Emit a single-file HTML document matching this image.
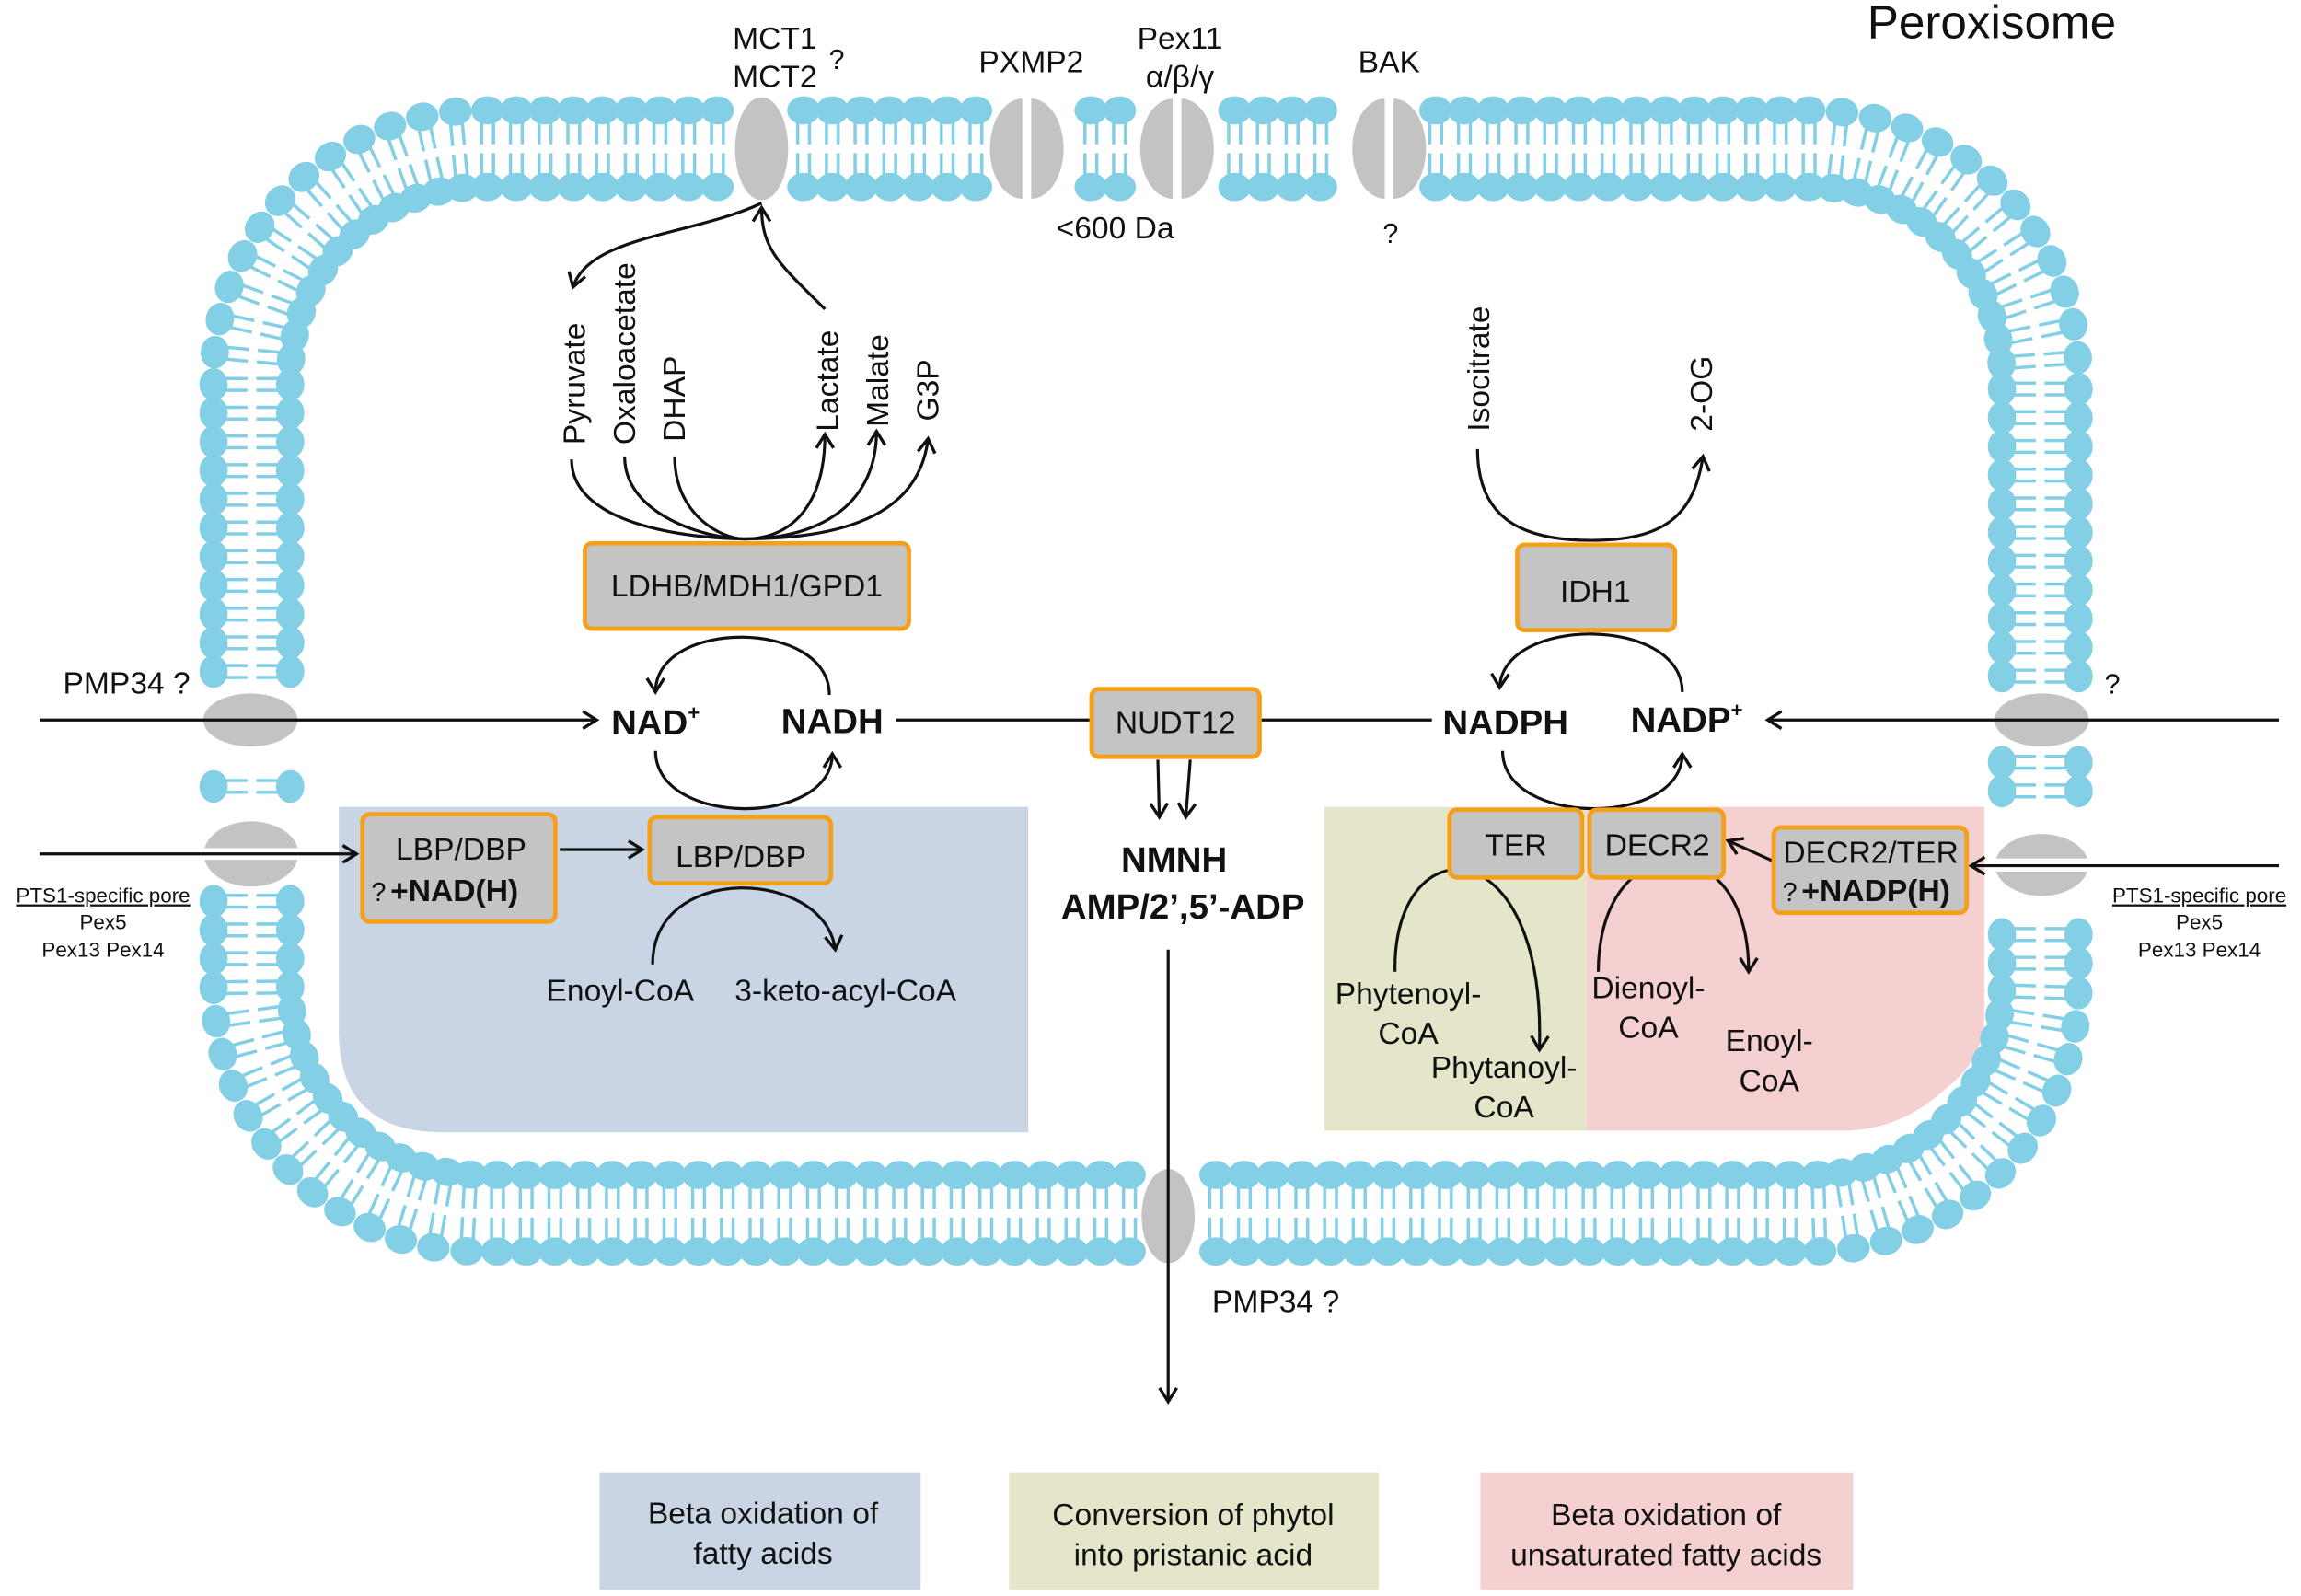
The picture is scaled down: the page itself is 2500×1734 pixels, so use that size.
<!DOCTYPE html>
<html><head><meta charset="utf-8"><style>
html,body{margin:0;padding:0;background:#fff}
svg{display:block}
text{font-family:"Liberation Sans",sans-serif;fill:#111}
</style></head><body>
<svg id="s" width="2500" height="1734" viewBox="0 0 1562 1084" preserveAspectRatio="none" xmlns="http://www.w3.org/2000/svg">
<defs>
<marker id="b" viewBox="0 0 12 12" refX="10" refY="6" markerWidth="14" markerHeight="14" orient="auto-start-reverse" markerUnits="userSpaceOnUse">
<path d="M2,1 L10,6 L2,11" fill="none" stroke="#111" stroke-width="1.8"/></marker>
</defs>
<path d="M230,548 H698 V769 H300 Q230,769 230,700 Z" fill="#c9d5e4"/>
<rect x="899" y="548" width="178" height="220" fill="#e4e5c9"/>
<path d="M1077,548 H1347 V690 Q1347,720 1320,740 Q1290,768 1250,768 H1077 Z" fill="#f4d0d0"/>
<g id="mem"></g>
<g fill="#c3c3c3">
<ellipse cx="517" cy="101" rx="18" ry="35"/>
<path d="M694,67 A22,34 0 0 0 694,135 Z"/><path d="M700,67 A22,34 0 0 1 700,135 Z"/>
<path d="M796,67 A22,34 0 0 0 796,135 Z"/><path d="M802,67 A22,34 0 0 1 802,135 Z"/>
<path d="M940,67 A22,34 0 0 0 940,135 Z"/><path d="M946,67 A22,34 0 0 1 946,135 Z"/>
<ellipse cx="170" cy="489" rx="32" ry="18"/>
<path d="M139,576 A32,22 0 0 1 202,576 Z"/><path d="M139,584 A32,22 0 0 0 202,584 Z"/>
<ellipse cx="1386" cy="489" rx="32" ry="18"/>
<path d="M1355,583 A32,22 0 0 1 1417,583 Z"/><path d="M1355,592 A32,22 0 0 0 1417,592 Z"/>
<ellipse cx="793" cy="826" rx="18" ry="32"/>
</g>
<g fill="none" stroke="#111" stroke-width="2">
<line x1="27" y1="489" x2="405" y2="489" marker-end="url(#b)"/>
<line x1="608" y1="489" x2="740" y2="489"/>
<line x1="856" y1="489" x2="972" y2="489"/>
<line x1="1547" y1="489" x2="1200" y2="489" marker-end="url(#b)"/>
<line x1="27" y1="580" x2="242" y2="580" marker-end="url(#b)"/>
<line x1="1547" y1="588" x2="1338" y2="588" marker-end="url(#b)"/>
<line x1="380" y1="577" x2="436" y2="577" marker-end="url(#b)"/>
<line x1="1204" y1="585" x2="1173" y2="571" marker-end="url(#b)"/>
<path d="M563,472 C563,420 445,420 445,470" marker-end="url(#b)"/>
<path d="M445,510 C445,562 565,562 565,512" marker-end="url(#b)"/>
<path d="M1142,470 C1142,418 1020,418 1018,467" marker-end="url(#b)"/>
<path d="M1020,510 C1020,562 1142,562 1142,512" marker-end="url(#b)"/>
<path d="M443,655 C443,585 560,590 567,645" marker-end="url(#b)"/>
<path d="M947,660 C945,560 1050,560 1045,713" marker-end="url(#b)"/>
<path d="M1085,660 C1085,560 1188,560 1187,660" marker-end="url(#b)"/>
<path d="M808,516 L805,555" marker-end="url(#b)"/>
<path d="M786,516 L787,555" marker-end="url(#b)"/>
<line x1="793" y1="645" x2="793" y2="952" marker-end="url(#b)"/>
<path d="M517,138 C470,160 400,160 389,195" marker-end="url(#b)"/>
<path d="M560,210 C530,180 517,170 517,141" marker-end="url(#b)"/>
<path d="M388,312 C388,360 480,366 505,366"/>
<path d="M424,310 C424,350 480,366 505,366"/>
<path d="M458,310 C458,350 490,366 505,366"/>
<path d="M505,366 C540,366 560,340 560,295" marker-end="url(#b)"/>
<path d="M505,366 C560,366 595,340 595,293" marker-end="url(#b)"/>
<path d="M505,366 C590,366 625,340 630,298" marker-end="url(#b)"/>
<path d="M1003,305 C1003,350 1030,367 1080,367 C1130,367 1150,350 1156,310" marker-end="url(#b)"/>
</g>
<g fill="#c4c4c4" stroke="#f5a01a" stroke-width="3">
<rect x="397" y="369" width="220" height="58" rx="5"/>
<rect x="1030" y="370" width="107" height="58" rx="5"/>
<rect x="741" y="468" width="114" height="46" rx="5"/>
<rect x="246" y="553" width="131" height="73" rx="5"/>
<rect x="441" y="555" width="123" height="45" rx="5"/>
<rect x="984" y="550" width="90" height="46" rx="5"/>
<rect x="1079" y="550" width="91" height="46" rx="5"/>
<rect x="1204" y="562" width="131" height="58" rx="5"/>
</g>
<rect x="407" y="1000" width="218" height="80" fill="#c9d5e4"/>
<rect x="685" y="1000" width="251" height="80" fill="#e4e5c9"/>
<rect x="1005" y="1000" width="253" height="80" fill="#f4d0d0"/>
<g font-size="21" text-anchor="middle">
<text x="518" y="1035">Beta oxidation of</text><text x="518" y="1062">fatty acids</text>
<text x="810" y="1036">Conversion of phytol</text><text x="810" y="1063">into pristanic acid</text>
<text x="1131" y="1036">Beta oxidation of</text><text x="1131" y="1063">unsaturated fatty acids</text>
</g>
<text x="1352" y="26" font-size="32" text-anchor="middle">Peroxisome</text>
<g font-size="21" text-anchor="middle">
<text x="526" y="33">MCT1</text><text x="526" y="59">MCT2</text><text x="568" y="47" font-size="19">?</text>
<text x="700" y="49">PXMP2</text>
<text x="801" y="33">Pex11</text><text x="801" y="59">α/β/γ</text>
<text x="943" y="49">BAK</text>
<text x="757" y="162">&lt;600 Da</text>
<text x="944" y="165" font-size="19">?</text>
<text x="86" y="471">PMP34 ?</text>
<text x="1434" y="471" font-size="19">?</text>
<text x="866" y="891">PMP34 ?</text>
<text x="507" y="405">LDHB/MDH1/GPD1</text>
<text x="1083" y="409">IDH1</text>
<text x="798" y="498">NUDT12</text>
<text x="313" y="584">LBP/DBP</text>
<text x="503" y="589">LBP/DBP</text>
<text x="1029" y="581">TER</text>
<text x="1125" y="581">DECR2</text>
<text x="1270" y="586">DECR2/TER</text>
<text x="421" y="680">Enoyl-CoA</text>
<text x="574" y="680">3-keto-acyl-CoA</text>
<text x="956" y="682">Phytenoyl-</text><text x="956" y="709">CoA</text>
<text x="1021" y="732">Phytanoyl-</text><text x="1021" y="759">CoA</text>
<text x="1119" y="678">Dienoyl-</text><text x="1119" y="705">CoA</text>
<text x="1201" y="714">Enoyl-</text><text x="1201" y="741">CoA</text>
</g>
<text x="252" y="612" font-size="18">?</text><text x="265" y="612" font-size="21" font-weight="bold">+NAD(H)</text>
<text x="1210" y="612" font-size="18">?</text><text x="1223" y="612" font-size="21" font-weight="bold">+NADP(H)</text>
<g font-size="24" font-weight="bold" text-anchor="middle">
<text x="445" y="499">NAD<tspan font-size="14" dy="-10">+</tspan></text>
<text x="565" y="498">NADH</text>
<text x="1022" y="499">NADPH</text>
<text x="1145" y="497">NADP<tspan font-size="14" dy="-10">+</tspan></text>
<text x="797" y="592">NMNH</text>
<text x="803" y="624">AMP/2’,5’-ADP</text>
</g>
<g font-size="14" text-anchor="middle">
<text x="70" y="613" text-decoration="underline">PTS1-specific pore</text><text x="70" y="631">Pex5</text><text x="70" y="650">Pex13 Pex14</text>
<text x="1493" y="613" text-decoration="underline">PTS1-specific pore</text><text x="1493" y="631">Pex5</text><text x="1493" y="650">Pex13 Pex14</text>
</g>
<g font-size="21">
<text transform="translate(397,302) rotate(-90)">Pyruvate</text>
<text transform="translate(431,302) rotate(-90)">Oxaloacetate</text>
<text transform="translate(465,300) rotate(-90)">DHAP</text>
<text transform="translate(569,293) rotate(-90)">Lactate</text>
<text transform="translate(603,290) rotate(-90)">Malate</text>
<text transform="translate(637,286) rotate(-90)">G3P</text>
<text transform="translate(1011,293) rotate(-90)">Isocitrate</text>
<text transform="translate(1162,293) rotate(-90)">2-OG</text>
</g>
</svg>
<script>
(function(){
var X0=171,X1=1385,Y0=101,Y1=824,R=155;
var segs=[];
function line(ax,ay,bx,by,nx,ny){var L=Math.hypot(bx-ax,by-ay);segs.push([L,function(s){return{x:ax+(bx-ax)*s/L,y:ay+(by-ay)*s/L,nx:nx,ny:ny}}]);}
function arc(cx,cy,a0,a1){var L=R*Math.abs(a1-a0);segs.push([L,function(s){var a=a0+(a1-a0)*s/L;return{x:cx+R*Math.cos(a),y:cy+R*Math.sin(a),nx:Math.cos(a),ny:Math.sin(a)}}]);}
var P=Math.PI;
line(X0+R,Y0,X1-R,Y0,0,-1);arc(X1-R,Y0+R,-P/2,0);
line(X1,Y0+R,X1,Y1-R,1,0);arc(X1-R,Y1-R,0,P/2);
line(X1-R,Y1,X0+R,Y1,0,1);arc(X0+R,Y1-R,P/2,P);
line(X0,Y1-R,X0,Y0+R,-1,0);arc(X0+R,Y0+R,P,1.5*P);
var total=0;segs.forEach(function(s){total+=s[0]});
var n=Math.round(total/19.5),step=total/n;
var prot=[[517,101,26],[697,101,30],[799,101,30],[943,101,30],[170,489,26],[170,580,32],[1386,489,26],[1386,588,32],[793,826,26]];
var h=[];
for(var i=0;i<n;i++){
 var d=i*step+5,k=0;while(d>segs[k][0]){d-=segs[k][0];k++;}
 var p=segs[k][1](d),skip=false;
 prot.forEach(function(q){if(Math.hypot(p.x-q[0],p.y-q[1])<q[2])skip=true;});
 if(skip)continue;
 var tx=-p.ny,ty=p.nx,ang=Math.atan2(p.ny,p.nx)*180/P;
 [1,-1].forEach(function(sg){
  var hx=p.x+p.nx*26*sg,hy=p.y+p.ny*26*sg;
  h.push('<ellipse cx="'+hx.toFixed(1)+'" cy="'+hy.toFixed(1)+'" rx="8.5" ry="10" transform="rotate('+ang.toFixed(1)+' '+hx.toFixed(1)+' '+hy.toFixed(1)+')"/>');
  [-4,4].forEach(function(o){
   var ax=p.x+p.nx*19*sg+tx*o,ay=p.y+p.ny*19*sg+ty*o,bx=p.x+p.nx*3*sg+tx*o,by=p.y+p.ny*3*sg+ty*o;
   h.push('<line x1="'+ax.toFixed(1)+'" y1="'+ay.toFixed(1)+'" x2="'+bx.toFixed(1)+'" y2="'+by.toFixed(1)+'"/>');
  });
 });
}
document.getElementById('mem').innerHTML='<g fill="#83cfe6" stroke="#83cfe6" stroke-width="2.2">'+h.join('')+'</g>';
})();
</script>
</body></html>
